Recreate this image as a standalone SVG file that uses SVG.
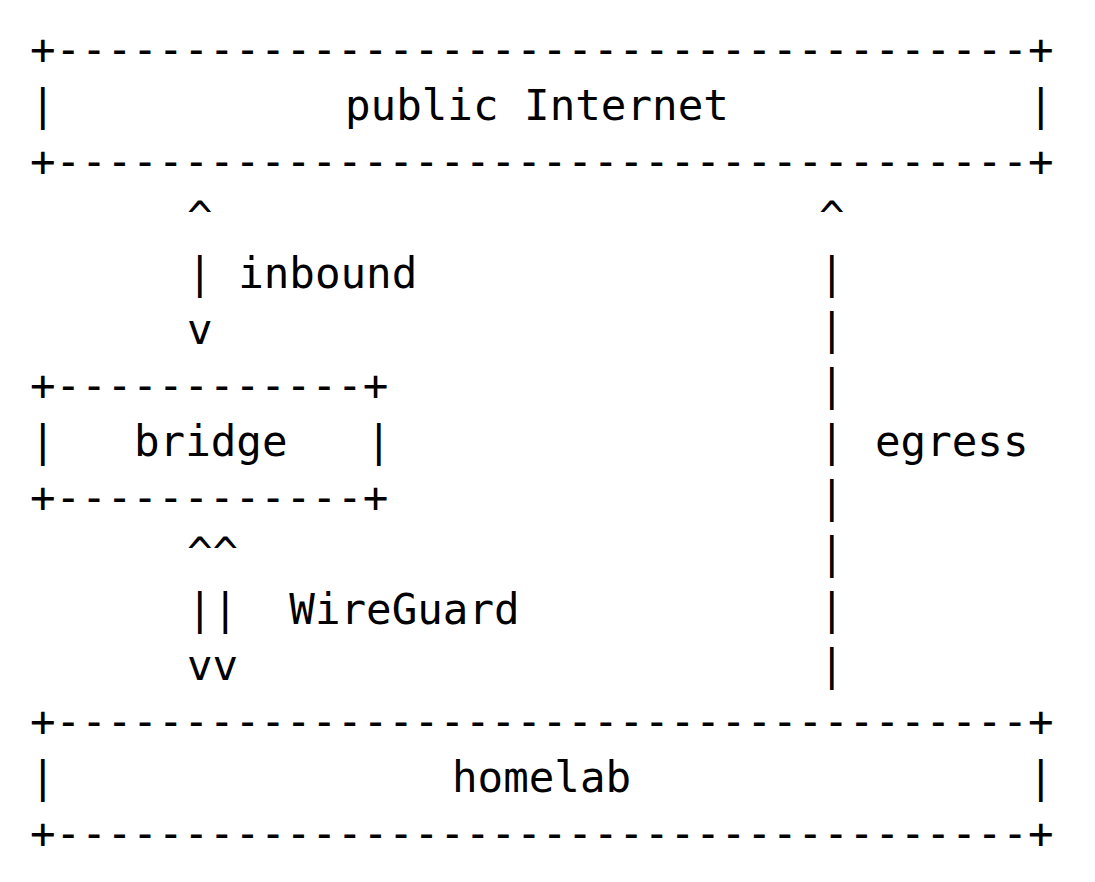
<svg xmlns="http://www.w3.org/2000/svg" width="1095" height="882" viewBox="0 0 1095 882">
<style>
text{font-family:"DejaVu Sans Mono","Liberation Mono",monospace;font-size:42.5px;fill:#000;white-space:pre}
</style>
<rect width="1095" height="882" fill="#fff"/>
<g id="internet">
<text x="30" y="64" xml:space="preserve">+--------------------------------------+</text>
<text x="30" y="120">|</text>
<text x="345" y="120" xml:space="preserve">public Internet</text>
<text x="1028" y="120">|</text>
<text x="30" y="176" xml:space="preserve">+--------------------------------------+</text>
</g>
<g id="connectors">
<text x="187" y="232">^</text>
<text x="187" y="288" xml:space="preserve">| inbound</text>
<text x="187" y="344">v</text>
<text x="187" y="568">^^</text>
<text x="187" y="624" xml:space="preserve">||  WireGuard</text>
<text x="187" y="680">vv</text>
<text x="819" y="232">^</text>
<text x="819" y="288">|</text>
<text x="819" y="344">|</text>
<text x="819" y="400">|</text>
<text x="819" y="456">|</text>
<text x="875" y="456">egress</text>
<text x="819" y="512">|</text>
<text x="819" y="568">|</text>
<text x="819" y="624">|</text>
<text x="819" y="680">|</text>
</g>
<g id="bridge">
<text x="30" y="400" xml:space="preserve">+------------+</text>
<text x="30" y="456">|</text>
<text x="134" y="456">bridge</text>
<text x="366" y="456">|</text>
<text x="30" y="512" xml:space="preserve">+------------+</text>
</g>
<g id="homelab">
<text x="30" y="736" xml:space="preserve">+--------------------------------------+</text>
<text x="30" y="792">|</text>
<text x="452" y="792">homelab</text>
<text x="1028" y="792">|</text>
<text x="30" y="848" xml:space="preserve">+--------------------------------------+</text>
</g>
</svg>
